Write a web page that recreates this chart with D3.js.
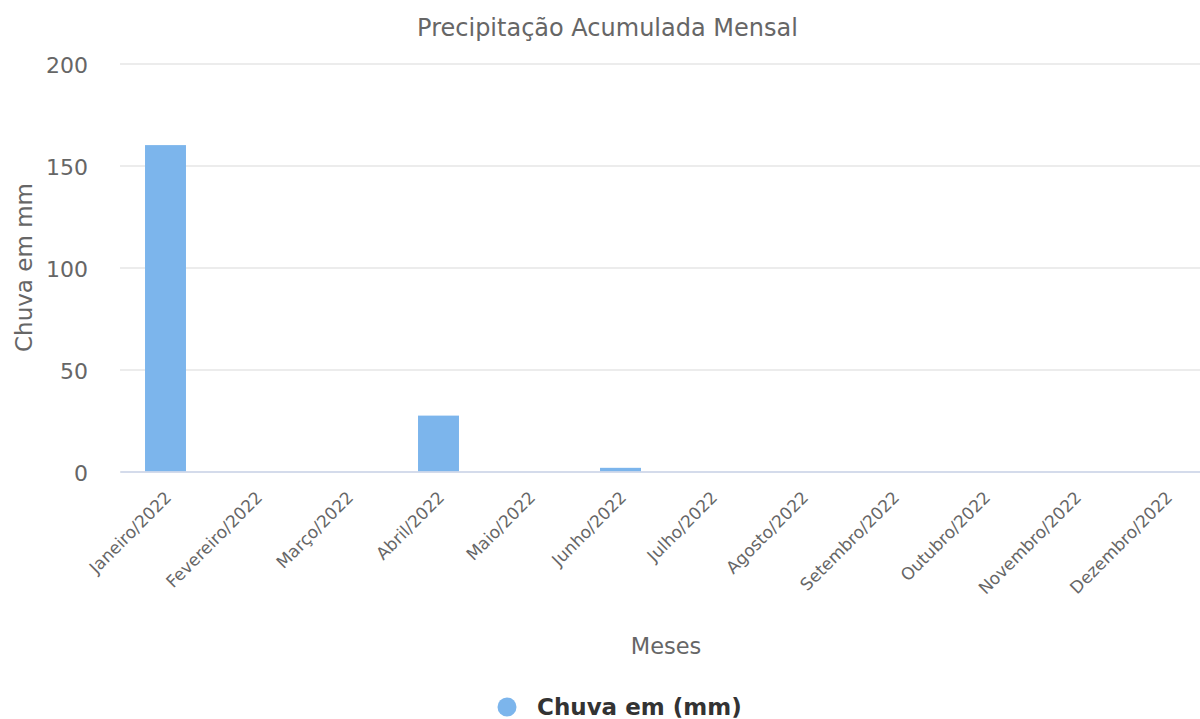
<!DOCTYPE html>
<html><head><meta charset="utf-8">
<script src="https://cdn.jsdelivr.net/npm/d3@7"></script>
<style>body{margin:0;background:#fff;}svg{display:block;font-family:"DejaVu Sans",sans-serif;}</style>
</head><body>
<svg id="c" width="1200" height="719"></svg>
<script>
const categories = ["Janeiro/2022","Fevereiro/2022","Março/2022","Abril/2022","Maio/2022","Junho/2022","Julho/2022","Agosto/2022","Setembro/2022","Outubro/2022","Novembro/2022","Dezembro/2022"];
const values = [160, 0, 0, 27.4, 0, 1.8, 0, 0, 0, 0, 0, 0];
const yTicks = [0, 50, 100, 150, 200];
const seriesName = "Chuva em (mm)";
const titleText = "Precipitação Acumulada Mensal";
const yTitle = "Chuva em mm";
const xTitle = "Meses";

(function () {
const FONT = '"DejaVu Sans", sans-serif';
const svg = d3.select("#c");
const pLeft = 120, pRight = 1212, pTop = 63.5, pBottom = 471.5;
const x = d3.scaleBand().domain(categories).range([pLeft, pRight]).paddingInner(0.55).paddingOuter(0.275);
const y = d3.scaleLinear().domain([0, 200]).range([pBottom, pTop]);

// grid
const yAxis = d3.axisLeft(y).tickValues(yTicks).tickSize(-(pRight - pLeft)).tickFormat(d3.format("d"));
const gy = svg.append("g").attr("transform", `translate(${pLeft},0)`).call(yAxis)
  .attr("font-family", FONT);
gy.select(".domain").remove();
gy.selectAll(".tick line").attr("stroke", "#e6e6e6").attr("stroke-width", 1.5);
gy.selectAll(".tick text").attr("x", -32).attr("fill", "#666").style("font-size", "22px").attr("dy", "0.42em");

// bars
svg.append("g").selectAll("rect").data(values).join("rect")
  .attr("x", (d, i) => x(categories[i]))
  .attr("width", x.bandwidth())
  .attr("y", d => y(d))
  .attr("height", d => y(0) - y(d))
  .attr("fill", "#7cb5ec");

// x axis
const xAxis = d3.axisBottom(x).tickSize(0);
const gx = svg.append("g").attr("transform", `translate(0,${pBottom})`).call(xAxis)
  .attr("font-family", FONT);
gx.select(".domain").attr("stroke", "#ccd6eb").attr("stroke-width", 1.5);
gx.selectAll(".tick text")
  .attr("fill", "#666").style("font-size", "17px")
  .attr("text-anchor", "end")
  .attr("dy", null).attr("y", 0)
  .attr("transform", "translate(7,27) rotate(-45)");

// titles
svg.append("text").attr("x", 607.5).attr("y", 36).attr("text-anchor", "middle")
  .attr("fill", "#666").style("font-size", "24px").text(titleText);
svg.append("text").attr("transform", `translate(32,${(pTop + pBottom) / 2}) rotate(-90)`)
  .attr("text-anchor", "middle").attr("fill", "#666").style("font-size", "23px").text(yTitle);
svg.append("text").attr("x", (pLeft + pRight) / 2).attr("y", 654).attr("text-anchor", "middle")
  .attr("fill", "#666").style("font-size", "22.5px").text(xTitle);

// legend
const lg = svg.append("g");
lg.append("circle").attr("cx", 507).attr("cy", 707).attr("r", 9.5).attr("fill", "#7cb5ec");
lg.append("text").attr("x", 537).attr("y", 715).attr("fill", "#333").style("font-size", "23px")
  .style("font-weight", "bold").text(seriesName);
})();
</script>
</body></html>
